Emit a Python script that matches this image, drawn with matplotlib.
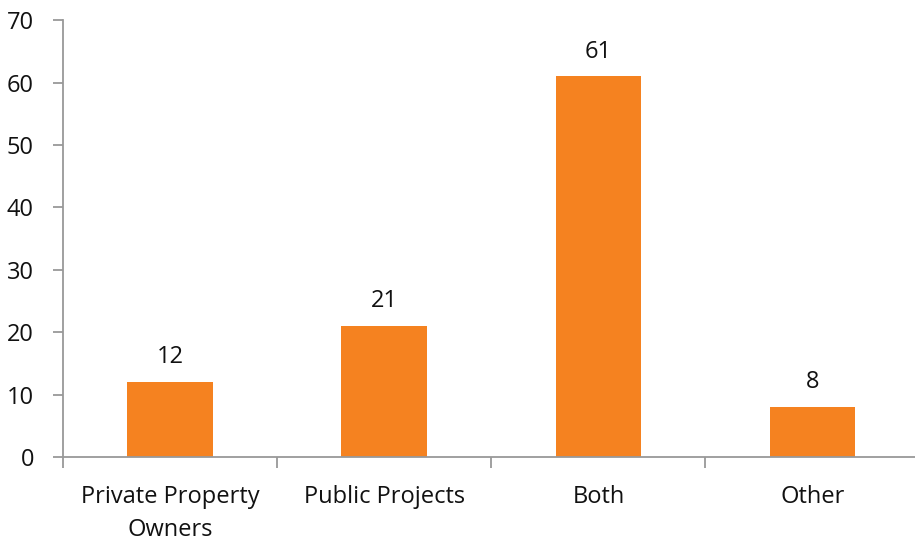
import numpy as np
import matplotlib
matplotlib.use("Agg")
import matplotlib.pyplot as plt

plt.rcParams['font.family'] = ['Open Sans', 'DejaVu Sans']

categories = ["Private Property\nOwners", "Public Projects", "Both", "Other"]
values = [12, 21, 61, 8]

fig = plt.figure(figsize=(9.15, 5.46), dpi=100)
ax = fig.add_axes([0.069, 0.163, 0.936, 0.800])

x = np.arange(len(categories))
ax.bar(x, values, width=0.4, color="#F58220")
for xi, v in zip(x, values):
    ax.text(xi, v + 3.0, str(v), ha="center", va="baseline", fontsize=17, color="#111111")

ax.set_xlim(-0.5, len(categories) - 0.5)
ax.set_ylim(0, 70)
ax.set_yticks(np.arange(0, 71, 10))
ax.set_xticks(x)
ax.set_xticklabels(categories, fontsize=17, color="#111111", linespacing=1.5)
ax.set_xticks(np.arange(-0.5, len(categories), 1), minor=True)
ax.tick_params(axis="x", which="major", length=0, pad=20)
ax.tick_params(axis="x", which="minor", length=8, width=1.3, color="#999999", direction="out")
ax.tick_params(axis="y", length=7, width=1.3, color="#999999", labelsize=17, labelcolor="#111111", pad=14)

for s in ["top", "right"]:
    ax.spines[s].set_visible(False)
for s in ["left", "bottom"]:
    ax.spines[s].set_color("#999999")
    ax.spines[s].set_linewidth(1.3)

fig.savefig("out.png", dpi=100)
